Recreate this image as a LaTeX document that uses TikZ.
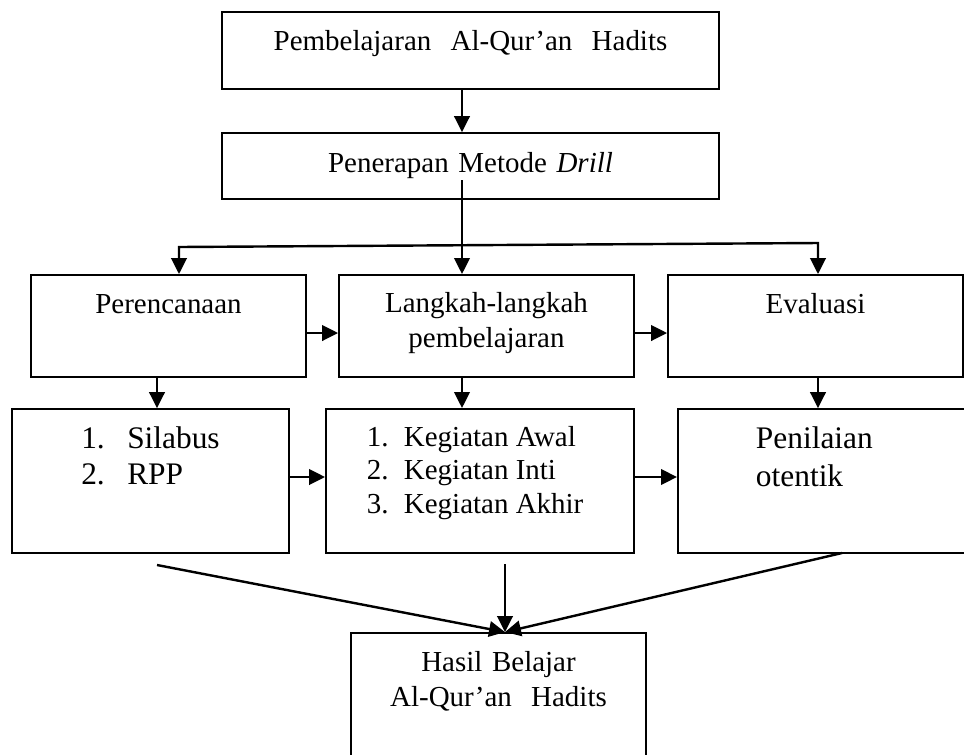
\documentclass[tikz,border=0pt]{standalone}
\usepackage{fontspec}
\setmainfont{Liberation Serif}
\usetikzlibrary{arrows.meta,positioning,calc}

\tikzset{
  box/.style={draw, line width=0.85pt, inner sep=0pt, align=center, font=\fontsize{12}{14.5}\selectfont},
  arr/.style={-{Triangle[length=6.6pt,width=6.4pt]}, line width=1pt},
  arrtwo/.style={{Triangle[length=6.6pt,width=6.4pt]}-{Triangle[length=6.6pt,width=6.4pt]}, line width=1pt},
}

\begin{document}
\begin{tikzpicture}[x=0.01455cm, y=-0.01455cm]
  \clip (0,0) rectangle (964,754);

  % top column
  \node[box, anchor=base, text width=205.8pt, text height=15.7pt, text depth=16.1pt] (pembelajaran) at (470.5,50) {Pembelajaran~ Al-Qur'an~ Hadits};
  \node[box, anchor=base, text width=205.8pt, text height=16.1pt, text depth=11.2pt] (drill) at (470.5,172) {Penerapan Metode \textit{Drill}};

  % second row
  \node[box, anchor=base, text width=113.9pt, text height=15.7pt, text depth=26.5pt] (perencanaan) at (168.5,313) {Perencanaan};
  \node[box, anchor=base, text width=122.1pt, text height=15.3pt, text depth=26.9pt] (langkah) at (486.5,312) {Langkah-langkah\\pembelajaran};
  \node[box, anchor=base, text width=122.1pt, text height=15.7pt, text depth=26.5pt] (evaluasi) at (815.5,313) {Evaluasi};

  % third row
  \node[box, anchor=base, minimum width=114.7pt, text height=16.1pt, text depth=43.5pt, font=\fontsize{13}{15.3}\selectfont] (silabus) at (150.5,448)
    {\begin{tabular}[t]{@{}l@{\hspace{9.3pt}}l@{}}1. & Silabus\\2. & RPP\end{tabular}};
  \node[box, anchor=base, minimum width=127.5pt, text height=15.3pt, text depth=44.3pt, font=\fontsize{12}{13.9}\selectfont] (kegiatan) at (480,446)
    {\begin{tabular}[t]{@{}l@{\hspace{6.3pt}}l@{}}1. & Kegiatan Awal\\2. & Kegiatan Inti\\3. & Kegiatan Akhir\end{tabular}\hspace{4pt}};
  \node[box, anchor=base, align=left, inner xsep=32.3pt, text width=72.9pt, text height=16.1pt, text depth=43.5pt, font=\fontsize{13}{16.1}\selectfont] (penilaian) at (844,448) {Penilaian\\otentik};

  % result
  \node[box, anchor=base, text width=122.1pt, text height=15.7pt, text depth=49.3pt] (hasil) at (498.5,671) {Hasil Belajar\\Al-Qur'an~ Hadits};

  % helper coordinates
  \coordinate (spine) at (462,0);
  \coordinate (colA) at (157,0);
  \coordinate (colC) at (818,0);
  \coordinate (sink) at (505,0);
  \coordinate (rowtwo) at (0,333);
  \coordinate (rowthree) at (0,477);
  \coordinate (drillout) at (462,180);
  \coordinate (jl) at (179,247);
  \coordinate (jr) at (818,243);
  \coordinate (fromA) at (157,565);
  \coordinate (fromB) at (505,564);
  \coordinate (fromC) at (842,553);

  \draw[arr] (pembelajaran.south -| spine) -- (drill.north -| spine);
  \draw[arr] (drillout) -- (langkah.north -| spine);
  \draw[arrtwo] (jl |- perencanaan.north) -- (jl) -- (jr) -- (jr |- evaluasi.north);

  \draw[arr] (perencanaan.east |- rowtwo) -- (langkah.west |- rowtwo);
  \draw[arr] (langkah.east |- rowtwo) -- (evaluasi.west |- rowtwo);

  \draw[arr] (perencanaan.south -| colA) -- (silabus.north -| colA);
  \draw[arr] (langkah.south -| spine) -- (kegiatan.north -| spine);
  \draw[arr] (evaluasi.south -| colC) -- (penilaian.north -| colC);

  \draw[arr] (silabus.east |- rowthree) -- (kegiatan.west |- rowthree);
  \draw[arr] (kegiatan.east |- rowthree) -- (penilaian.west |- rowthree);

  \draw[arr] (fromA) -- (hasil.north -| sink);
  \draw[arr] (fromB) -- (hasil.north -| sink);
  \draw[arr] (fromC) -- (hasil.north -| sink);
\end{tikzpicture}
\end{document}
